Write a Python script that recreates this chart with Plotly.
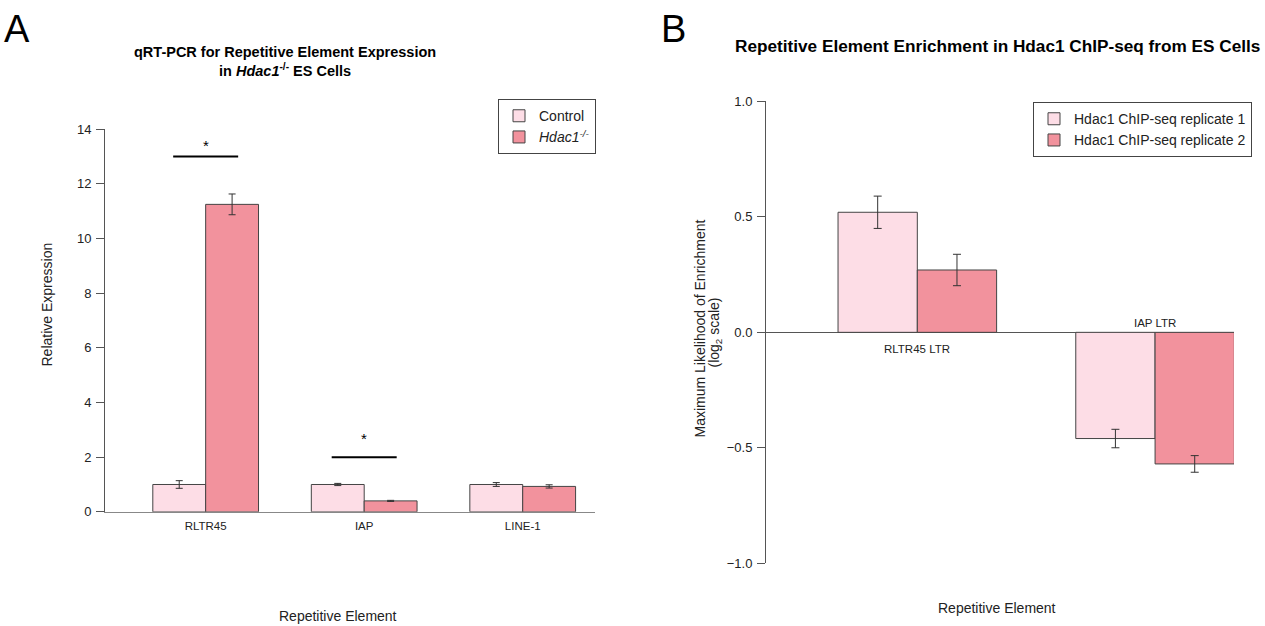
import plotly.graph_objects as go

# ---------------- data ----------------
elements_a = ["RLTR45", "IAP", "LINE-1"]
control_vals = [1.00, 1.00, 1.00]
control_err = [0.14, 0.04, 0.07]
hdac1_vals = [11.25, 0.40, 0.93]
hdac1_err = [0.38, 0.02, 0.06]

sig_elements = ["RLTR45", "IAP"]
sig_line_y = [13.0, 2.0]
sig_star_y = [13.5, 2.8]

elements_b = ["RLTR45 LTR", "IAP LTR"]
rep1_vals = [0.52, -0.46]
rep1_err = [0.07, 0.04]
rep2_vals = [0.27, -0.57]
rep2_err = [0.068, 0.036]

# ---------------- style ----------------
W, H = 1265, 626
FONT = "Liberation Sans, Arial, Helvetica, sans-serif"
LIGHT = "#FDDDE6"
DARK = "#F2929D"
EDGE = "#444444"
AX = "#555555"


def px(x):
    return x / W


def py(y):
    # maps a target pixel row to paper coordinates (rendered area is ~610px tall, offset 8px)
    return 1 - (y - 8) / 610


fig = go.Figure()

err_style = dict(type="data", color="#333333", thickness=1, width=3.5, visible=True)

fig.add_trace(go.Bar(
    x=elements_a, y=control_vals, name="Control",
    marker=dict(color=LIGHT, line=dict(color=EDGE, width=1)),
    error_y=dict(array=control_err, **err_style),
    xaxis="x", yaxis="y", legend="legend",
))
fig.add_trace(go.Bar(
    x=elements_a, y=hdac1_vals, name="<i>Hdac1<sup>-/-</sup></i>",
    marker=dict(color=DARK, line=dict(color=EDGE, width=1)),
    error_y=dict(array=hdac1_err, **err_style),
    xaxis="x", yaxis="y", legend="legend",
))
fig.add_trace(go.Bar(
    x=elements_b, y=rep1_vals, name="Hdac1 ChIP-seq replicate 1",
    marker=dict(color=LIGHT, line=dict(color=EDGE, width=1)),
    error_y=dict(array=rep1_err, **{**err_style, "width": 4}),
    xaxis="x2", yaxis="y2", legend="legend2",
))
fig.add_trace(go.Bar(
    x=elements_b, y=rep2_vals, name="Hdac1 ChIP-seq replicate 2",
    marker=dict(color=DARK, line=dict(color=EDGE, width=1)),
    error_y=dict(array=rep2_err, **{**err_style, "width": 4}),
    xaxis="x2", yaxis="y2", legend="legend2",
))

shapes = []
annotations = []

# significance bars (panel A)
for el, ly, sy in zip(sig_elements, sig_line_y, sig_star_y):
    i = elements_a.index(el)
    shapes.append(dict(type="line", xref="x", yref="y", x0=i - 0.205, x1=i + 0.205,
                       y0=ly, y1=ly, line=dict(color="black", width=2)))
    annotations.append(dict(xref="x", yref="y", x=i, y=sy, text="*", showarrow=False,
                            font=dict(family=FONT, size=15, color="black"),
                            xanchor="center", yanchor="middle", yshift=-3))

# panel B category labels at the zero line
for i, (el, v) in enumerate(zip(elements_b, rep1_vals)):
    annotations.append(dict(xref="x2", yref="y2", x=i, y=0, text=el, showarrow=False,
                            font=dict(family=FONT, size=11.5, color="#222"),
                            xanchor="center", yanchor="middle",
                            yshift=-17 if v > 0 else 9))

# titles and panel letters
annotations += [
    dict(xref="paper", yref="paper", x=px(17), y=py(30), text="A", showarrow=False,
         font=dict(family=FONT, size=38, color="black"), xanchor="center", yanchor="middle"),
    dict(xref="paper", yref="paper", x=px(673), y=py(30), text="B", showarrow=False,
         font=dict(family=FONT, size=38, color="black"), xanchor="center", yanchor="middle"),
    dict(xref="paper", yref="paper", x=px(285), y=py(62),
         text="<b>qRT-PCR for Repetitive Element Expression</b><br><b>in <i>Hdac1</i><sup>-/-</sup> ES Cells</b>",
         showarrow=False, font=dict(family=FONT, size=14.5, color="black"),
         xanchor="center", yanchor="middle", align="center"),
    dict(xref="paper", yref="paper", x=px(997), y=py(47),
         text="<b>Repetitive Element Enrichment in Hdac1 ChIP-seq from ES Cells</b>",
         showarrow=False, font=dict(family=FONT, size=17.2, color="black"),
         xanchor="center", yanchor="middle"),
    # axis titles
    dict(xref="paper", yref="paper", x=px(47), y=py(305), text="Relative Expression",
         textangle=-90, showarrow=False, font=dict(family=FONT, size=14, color="#222"),
         xanchor="center", yanchor="middle"),
    dict(xref="paper", yref="paper", x=px(338), y=py(616), text="Repetitive Element",
         showarrow=False, font=dict(family=FONT, size=14, color="#222"),
         xanchor="center", yanchor="middle"),
    dict(xref="paper", yref="paper", x=px(700), y=py(329), text="Maximum Likelihood of Enrichment",
         textangle=-90, showarrow=False, font=dict(family=FONT, size=14, color="#222"),
         xanchor="center", yanchor="middle"),
    dict(xref="paper", yref="paper", x=px(715), y=py(333), text="(log<sub>2</sub> scale)",
         textangle=-90, showarrow=False, font=dict(family=FONT, size=14, color="#222"),
         xanchor="center", yanchor="middle"),
    dict(xref="paper", yref="paper", x=px(997), y=py(608), text="Repetitive Element",
         showarrow=False, font=dict(family=FONT, size=14, color="#222"),
         xanchor="center", yanchor="middle"),
]

fig.update_layout(
    width=W, height=H,
    margin=dict(l=0, r=0, t=0, b=0),
    paper_bgcolor="white", plot_bgcolor="white",
    font=dict(family=FONT, color="#222"),
    barmode="group", bargap=0.333, bargroupgap=0,
    xaxis=dict(domain=[px(105), px(595)], type="category", range=[-0.635, 2.456],
               showline=True, linecolor="#888888", linewidth=1, ticks="",
               ticklabelstandoff=3,
               tickfont=dict(family=FONT, size=11.5, color="#222"),
               showgrid=False, zeroline=False, anchor="y"),
    yaxis=dict(domain=[py(512), py(130)], range=[0, 14], dtick=2, tick0=0,
               showline=True, linecolor=AX, linewidth=1, ticks="outside", ticklen=8,
               ticklabelstandoff=2,
               tickcolor=AX, tickfont=dict(family=FONT, size=13, color="#222"),
               showgrid=False, zeroline=False, anchor="x"),
    xaxis2=dict(domain=[px(766), px(1234)], type="category", range=[-0.6365, 1.332],
                showline=False, ticks="", showticklabels=False,
                showgrid=False, zeroline=False, anchor="y2"),
    yaxis2=dict(domain=[py(563.3), py(102.3)], range=[-1, 1], dtick=0.5, tick0=0,
                tickformat=".1f",
                showline=True, linecolor=AX, linewidth=1, ticks="outside", ticklen=8,
                ticklabelstandoff=2,
                tickcolor=AX, tickfont=dict(family=FONT, size=13, color="#222"),
                showgrid=False, zeroline=True, zerolinecolor=AX, zerolinewidth=1,
                anchor="x2"),
    legend=dict(x=px(498), y=py(100), xanchor="left", yanchor="top",
                bordercolor="#444", borderwidth=1, bgcolor="white", itemwidth=30,
                font=dict(family=FONT, size=14, color="#222"), tracegroupgap=0),
    legend2=dict(x=px(1033), y=py(103), xanchor="left", yanchor="top",
                 bordercolor="#444", borderwidth=1, bgcolor="white", itemwidth=30,
                 font=dict(family=FONT, size=14, color="#222"), tracegroupgap=0),
    shapes=shapes,
    annotations=annotations,
    showlegend=True,
)

fig.write_html("out.html")
